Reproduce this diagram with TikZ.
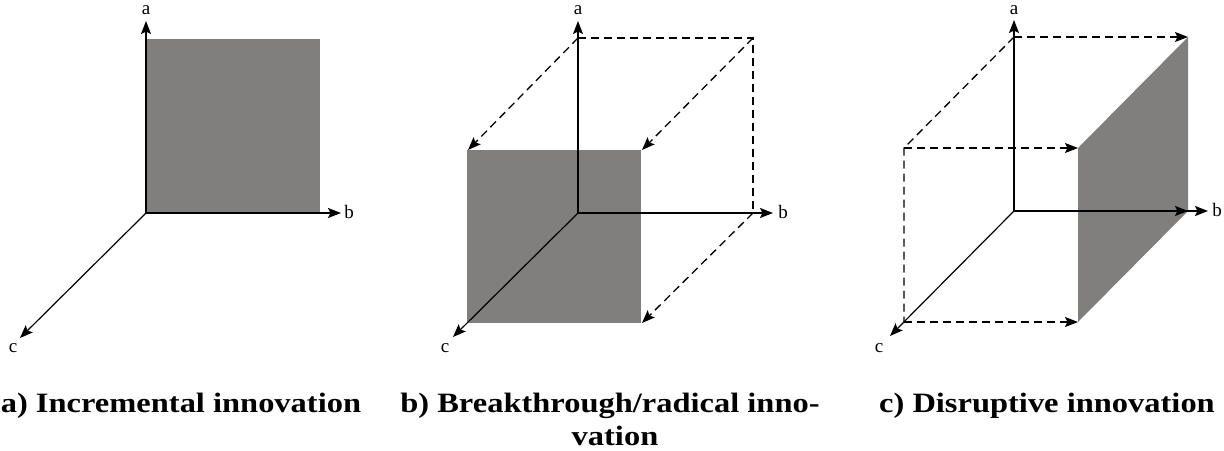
\documentclass[tikz,border=0pt]{standalone}
\usepackage{fontspec}
\setmainfont{Liberation Serif}
\newfontfamily\capfont[FakeStretch=1.16]{Liberation Serif}
\usetikzlibrary{arrows.meta}
\definecolor{facegray}{RGB}{128,127,125}
\tikzset{
  tip/.style={-{Stealth[length=13pt,width=10pt,inset=2.5pt]}},
  axis/.style={line width=1.5pt,tip},
  baxis/.style={line width=2.2pt,tip},
  caxis/.style={line width=1.2pt,tip},
  dline/.style={line width=1.3pt,dash pattern=on 8pt off 5pt},
  darrow/.style={dline,tip},
  face/.style={fill=facegray,draw=none},
  axlabel/.style={font=\fontsize{19}{20}\selectfont,inner sep=0pt},
  caption/.style={font=\capfont\bfseries\fontsize{28}{34}\selectfont,inner sep=0pt,align=center}
}
\begin{document}
\begin{tikzpicture}[x=1pt,y=-1pt]
\useasboundingbox (0,0) rectangle (1224,450);
% ---------- panel a ----------
\coordinate (aO) at (146,213);
\coordinate (aA) at (146,21);
\coordinate (aB) at (341,213);
\coordinate (aC) at (20,338);
\fill[face] (146,39) rectangle (320,213);
\draw[axis] (aO) -- (aA);
\draw[baxis] (aO) -- (aB);
\draw[caxis] (aO) -- (aC);
\node[axlabel] (la) at (146,10) {a};
\node[axlabel] (lb) at (349,212) {b};
\node[axlabel] (lc) at (13,348) {c};
% ---------- panel b ----------
\coordinate (bO) at (578,213);
\coordinate (bA) at (578,21);
\coordinate (bB) at (773,213);
\coordinate (bC) at (453,337);
\coordinate (bT1) at (578,38);
\coordinate (bT2) at (753,38);
\coordinate (bT3) at (753,213);
\coordinate (bF1) at (468,150);
\coordinate (bF2) at (642,150);
\coordinate (bF3) at (642,323);
\fill[face] (467,150) rectangle (641,323);
\draw[dline] (bT1) -- (bT2) -- (bT3);
\draw[darrow] (bT1) -- (bF1);
\draw[darrow] (bT2) -- (bF2);
\draw[darrow] (bT3) -- (bF3);
\draw[axis] (bO) -- (bA);
\draw[baxis] (bO) -- (bB);
\draw[caxis] (bO) -- (bC);
\node[axlabel] (la2) at (578,10) {a};
\node[axlabel] (lb2) at (783,212) {b};
\node[axlabel] (lc2) at (445,348) {c};
% ---------- panel c ----------
\coordinate (cO) at (1014,211);
\coordinate (cA) at (1014,20);
\coordinate (cB) at (1208,211);
\coordinate (cC) at (890,336);
\coordinate (cT1) at (1014,37);
\coordinate (cT2) at (1188,37);
\coordinate (cL1) at (904,148);
\coordinate (cL2) at (904,322);
\coordinate (cF1) at (1078,148);
\coordinate (cF2) at (1078,322);
\coordinate (cM) at (1188,211);
\fill[face] (cF1) -- (cT2) -- (cM) -- (cF2) -- cycle;
\draw[darrow] (cT1) -- (cT2);
\draw[dline] (cT1) -- (cL1) -- (cL2);
\draw[darrow] (cL1) -- (cF1);
\draw[darrow] (cL2) -- (cF2);
\draw[axis] (cO) -- (cA);
\draw[baxis] (cO) -- (cM);
\draw[baxis] (cO) -- (cB);
\draw[caxis] (cO) -- (cC);
\node[axlabel] (la3) at (1014,10) {a};
\node[axlabel] (lb3) at (1217,210) {b};
\node[axlabel] (lc3) at (879,348) {c};
% ---------- captions ----------
\node[caption,anchor=base] (capa) at (181,412) {a) Incremental innovation};
\node[caption,anchor=base] (capb1) at (610,412) {b) Breakthrough/radical inno-};
\node[caption,anchor=base] (capb2) at (615,445) {vation};
\node[caption,anchor=base] (capc) at (1047,412) {c) Disruptive innovation};
\end{tikzpicture}
\end{document}
